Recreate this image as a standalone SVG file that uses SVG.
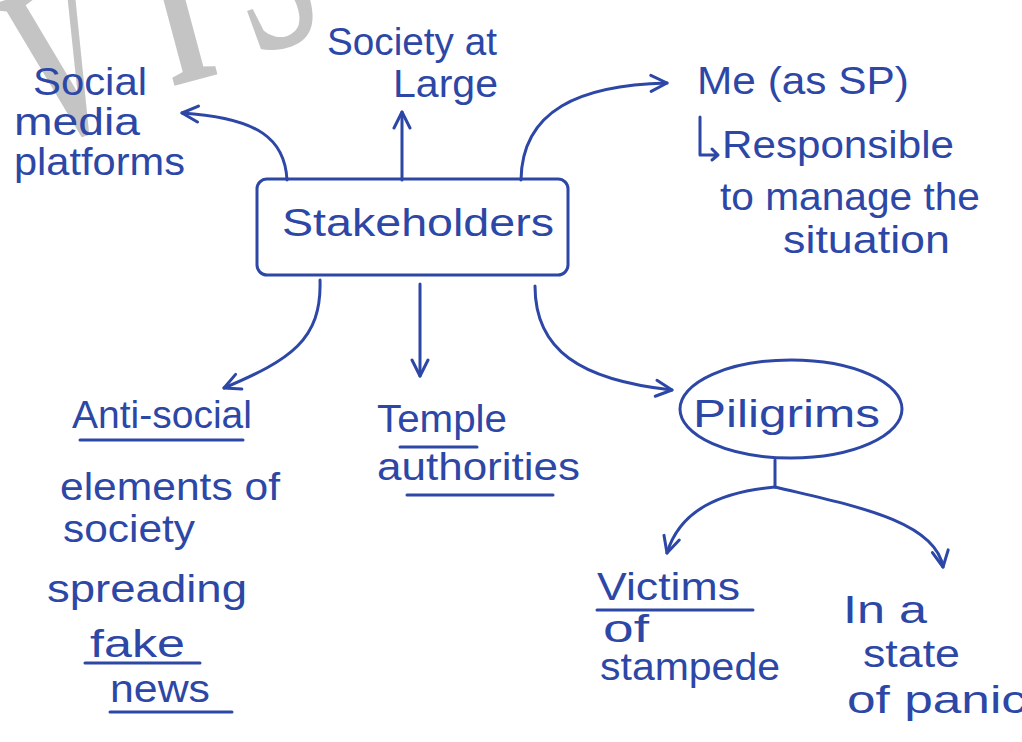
<svg xmlns="http://www.w3.org/2000/svg" width="1022" height="742" viewBox="0 0 1022 742">
<defs>
<style>
.ink{fill:none;stroke:#2d47a6;stroke-width:3;stroke-linecap:round;stroke-linejoin:round}
.t{font-family:"Liberation Sans","DejaVu Sans",sans-serif;fill:#2d47a6;font-size:38px}
.wm{font-family:"Liberation Serif",serif;fill:#c4c4c4;font-size:230px;font-weight:bold;text-anchor:middle}
</style>
<marker id="ah" viewBox="0 0 20 20" refX="18" refY="10" markerWidth="20" markerHeight="20" markerUnits="userSpaceOnUse" orient="auto">
<path d="M2,2 L18,10 L2,18" fill="none" stroke="#2d47a6" stroke-width="3" stroke-linecap="round" stroke-linejoin="round"/>
</marker>
</defs>
<rect width="1022" height="742" fill="#ffffff"/>
<g id="watermark">
<text class="wm" transform="translate(84,133) rotate(-18) scale(0.53,1)" x="0" y="0">V</text>
<text class="wm" transform="translate(196,80) rotate(-15) scale(0.6,1)" x="0" y="0">I</text>
<text class="wm" transform="translate(292,44) rotate(-20) scale(0.6,1)" x="0" y="0">S</text>
</g>
<g id="connectors">
<path class="ink" d="M287,180 C285,140 260,118 182,113" marker-end="url(#ah)"/>
<path class="ink" d="M402,180 L402,112" marker-end="url(#ah)"/>
<path class="ink" d="M521,180 C522,110 580,85 667,83" marker-end="url(#ah)"/>
<path class="ink" d="M320,280 C322,340 290,360 224,388" marker-end="url(#ah)"/>
<path class="ink" d="M420,284 L420,376" marker-end="url(#ah)"/>
<path class="ink" d="M535,286 C535,350 580,380 672,390" marker-end="url(#ah)"/>
<path class="ink" d="M775,460 L775,487"/>
<path class="ink" d="M775,487 C720,492 680,510 667,553" marker-end="url(#ah)"/>
<path class="ink" d="M775,487 C850,505 935,520 943,567" marker-end="url(#ah)"/>
</g>
<g id="stakeholders">
<rect class="ink" x="257" y="179" width="311" height="96" rx="10"/>
<text class="t" x="282" y="236" font-size="48" textLength="272" lengthAdjust="spacingAndGlyphs">Stakeholders</text>
</g>
<g id="social-media">
<text class="t" x="33" y="95" textLength="114" lengthAdjust="spacingAndGlyphs">Social</text>
<text class="t" x="14" y="135" textLength="126" lengthAdjust="spacingAndGlyphs">media</text>
<text class="t" x="14" y="175" textLength="171" lengthAdjust="spacingAndGlyphs">platforms</text>
</g>
<g id="society">
<text class="t" x="327" y="55" textLength="170" lengthAdjust="spacingAndGlyphs">Society at</text>
<text class="t" x="393" y="97" textLength="105" lengthAdjust="spacingAndGlyphs">Large</text>
</g>
<g id="me-sp">
<text class="t" x="697" y="94" textLength="212" lengthAdjust="spacingAndGlyphs">Me (as SP)</text>
<path class="ink" d="M700,117 L700,155 L718,155 M712,149 L718,155 L712,160"/>
<text class="t" x="722" y="158" textLength="232" lengthAdjust="spacingAndGlyphs">Responsible</text>
<text class="t" x="720" y="210" textLength="260" lengthAdjust="spacingAndGlyphs">to manage the</text>
<text class="t" x="783" y="253" textLength="167" lengthAdjust="spacingAndGlyphs">situation</text>
</g>
<g id="anti-social">
<text class="t" x="72" y="428" textLength="180" lengthAdjust="spacingAndGlyphs">Anti-social</text>
<path class="ink" d="M80,440 L243,440"/>
<text class="t" x="60" y="500" font-size="34" textLength="220" lengthAdjust="spacingAndGlyphs">elements of</text>
<text class="t" x="63" y="542" font-size="34" textLength="132" lengthAdjust="spacingAndGlyphs">society</text>
<text class="t" x="47" y="602" font-size="36" textLength="200" lengthAdjust="spacingAndGlyphs">spreading</text>
<text class="t" x="90" y="657" font-size="36" textLength="95" lengthAdjust="spacingAndGlyphs">fake</text>
<path class="ink" d="M85,663 L200,663"/>
<text class="t" x="110" y="702" font-size="36" textLength="100" lengthAdjust="spacingAndGlyphs">news</text>
<path class="ink" d="M110,712 L232,712"/>
</g>
<g id="temple">
<text class="t" x="377" y="432" textLength="130" lengthAdjust="spacingAndGlyphs">Temple</text>
<path class="ink" d="M400,447 L477,447"/>
<text class="t" x="377" y="480" textLength="203" lengthAdjust="spacingAndGlyphs">authorities</text>
<path class="ink" d="M407,495 L553,495"/>
</g>
<g id="pilgrims">
<ellipse class="ink" cx="791" cy="409" rx="111" ry="49"/>
<text class="t" x="693" y="427" font-size="40" textLength="187" lengthAdjust="spacingAndGlyphs">Piligrims</text>
</g>
<g id="victims">
<text class="t" x="597" y="600" font-size="34" textLength="143" lengthAdjust="spacingAndGlyphs">Victims</text>
<path class="ink" d="M597,610 L753,610"/>
<text class="t" x="603" y="642" font-size="26" textLength="46" lengthAdjust="spacingAndGlyphs">of</text>
<text class="t" x="600" y="680" font-size="34" textLength="180" lengthAdjust="spacingAndGlyphs">stampede</text>
</g>
<g id="panic">
<text class="t" x="843" y="623" textLength="84" lengthAdjust="spacingAndGlyphs">In a</text>
<text class="t" x="863" y="667" textLength="97" lengthAdjust="spacingAndGlyphs">state</text>
<text class="t" x="847" y="713" textLength="180" lengthAdjust="spacingAndGlyphs">of panic</text>
</g>
</svg>
